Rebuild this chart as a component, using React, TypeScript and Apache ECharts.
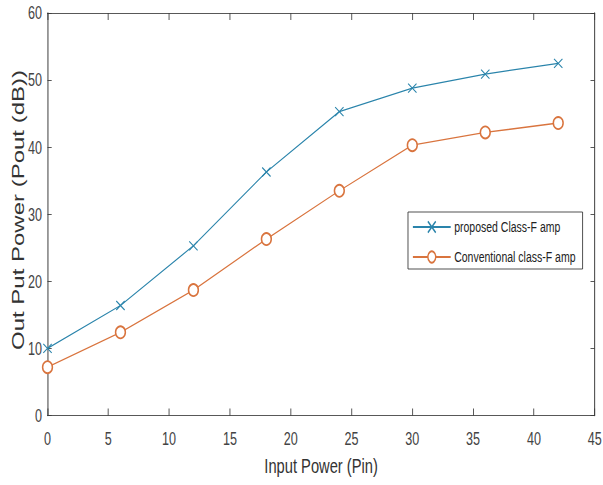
import React, { useEffect, useRef } from "react";
import * as echarts from "echarts";

const inputPower = [0, 6, 12, 18, 24, 30, 36, 42];
const proposedClassF = [10.0, 16.4, 25.3, 36.3, 45.3, 48.8, 50.9, 52.5];
const conventionalClassF = [7.2, 12.4, 18.7, 26.3, 33.5, 40.3, 42.2, 43.6];
const seriesNames = ["proposed Class-F amp", "Conventional class-F amp"];
const xTitle = "Input Power (Pin)";
const yTitle = "Out Put Power (Pout (dB))";

// The reference picture is squeezed horizontally; draw wider and compress with CSS.
const SX = 0.7;
const PAGE_W = 603;
const PAGE_H = 485;
const W = PAGE_W / SX;

const FONT = "'Liberation Sans', Arial, Helvetica, sans-serif";
const BLUE = "#2a84ab";
const ORANGE = "#d9743e";
const AXIS = "#3a3a3a";

export default function App() {
  const ref = useRef<HTMLDivElement>(null);
  useEffect(() => {
    if (!ref.current) return;
    const chart = echarts.init(ref.current, null, { renderer: "svg" });
    const toPairs = (ys: number[]) => inputPower.map((x, i) => [x, ys[i]]);
    const xTick = { show: true, inside: true, length: 7, lineStyle: { color: AXIS, width: 1.2 } };
    const yTick = { show: true, inside: true, length: 6, lineStyle: { color: AXIS, width: 1 } };
    chart.setOption({
      animation: false,
      backgroundColor: "#ffffff",
      grid: {
        left: 47.5 / SX,
        right: 8 / SX,
        top: 13,
        bottom: 69.5,
        containLabel: false,
        outerBoundsMode: "none",
      },
      graphic: [
        {
          type: "text",
          x: 17.5 / SX,
          y: 210,
          rotation: Math.PI / 2,
          style: {
            text: yTitle,
            font: "normal 24px " + FONT,
            fill: "#333333",
            align: "center",
            verticalAlign: "middle",
          },
        },
      ],
      legend: {
        data: seriesNames,
        orient: "vertical",
        left: 408 / SX,
        top: 212,
        padding: [6, 10, 3, 6],
        itemGap: 12,
        itemWidth: 54,
        itemHeight: 14,
        borderColor: "#333333",
        borderWidth: 1,
        borderRadius: 0,
        backgroundColor: "#ffffff",
        textStyle: { fontFamily: FONT, fontSize: 15, color: "#222222", lineHeight: 18 },
      },
      xAxis: [
        {
          type: "value",
          min: 0,
          max: 45,
          interval: 5,
          position: "bottom",
          name: xTitle,
          nameLocation: "middle",
          nameGap: 40,
          nameMoveOverlap: false,
          nameTextStyle: { fontFamily: FONT, fontSize: 21, color: "#333333" },
          axisLine: { show: true, lineStyle: { color: AXIS, width: 1 } },
          axisTick: xTick,
          axisLabel: { fontFamily: FONT, fontSize: 18, color: "#444444", margin: 14 },
          splitLine: { show: false },
        },
        {
          type: "value",
          min: 0,
          max: 45,
          interval: 5,
          position: "top",
          axisLine: { show: true, onZero: false, lineStyle: { color: AXIS, width: 1 } },
          axisTick: xTick,
          axisLabel: { show: false },
          splitLine: { show: false },
        },
      ],
      yAxis: [
        {
          type: "value",
          min: 0,
          max: 60,
          interval: 10,
          position: "left",
          axisLine: { show: true, lineStyle: { color: AXIS, width: 1.4 } },
          axisTick: yTick,
          axisLabel: { fontFamily: FONT, fontSize: 18, color: "#444444", margin: 8 },
          splitLine: { show: false },
        },
        {
          type: "value",
          min: 0,
          max: 60,
          interval: 10,
          position: "right",
          axisLine: { show: true, onZero: false, lineStyle: { color: AXIS, width: 1.4 } },
          axisTick: yTick,
          axisLabel: { show: false },
          splitLine: { show: false },
        },
      ],
      series: [
        {
          name: seriesNames[0],
          type: "line",
          xAxisIndex: 0,
          yAxisIndex: 0,
          data: toPairs(proposedClassF),
          color: BLUE,
          symbol: "path://M0,0L10,10M10,0L0,10",
          symbolSize: [12, 9],
          showAllSymbol: true,
          lineStyle: { color: BLUE, width: 1.3 },
          itemStyle: { color: "rgba(0,0,0,0)", borderColor: BLUE, borderWidth: 1.3 },
        },
        {
          name: seriesNames[1],
          type: "line",
          xAxisIndex: 0,
          yAxisIndex: 0,
          data: toPairs(conventionalClassF),
          color: ORANGE,
          symbol: "emptyCircle",
          symbolSize: [14, 12],
          showAllSymbol: true,
          lineStyle: { color: ORANGE, width: 1.3 },
          itemStyle: { color: ORANGE, borderColor: ORANGE, borderWidth: 1.3 },
        },
      ],
    });
    return () => chart.dispose();
  }, []);
  return (
    <div style={{ width: PAGE_W, height: PAGE_H, position: "absolute", left: 0, top: 0, overflow: "hidden" }}>
      <div
        ref={ref}
        style={{
          width: W,
          height: PAGE_H,
          position: "absolute",
          left: 0,
          top: 0,
          transform: `scaleX(${SX})`,
          transformOrigin: "0 0",
        }}
      />
    </div>
  );
}
